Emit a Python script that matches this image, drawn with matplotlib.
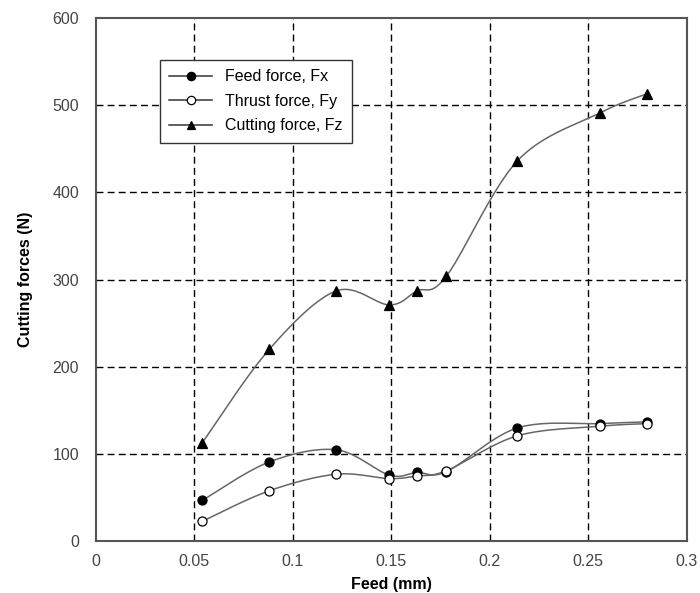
import numpy as np
import matplotlib.pyplot as plt

plt.rcParams['font.family'] = ['Liberation Sans', 'DejaVu Sans']

# feed values (mm)
feed = [0.054, 0.088, 0.122, 0.149, 0.163, 0.178, 0.214, 0.256, 0.280]
# forces (N)
fx = [47, 91, 105, 76, 79, 80, 130, 135, 137]
fy = [23, 58, 77, 72, 75, 81, 121, 132, 135]
fz = [113, 220, 287, 271, 287, 304, 436, 491, 513]

xticks = [0, 0.05, 0.1, 0.15, 0.2, 0.25, 0.3]
xticklabels = ['0', '0.05', '0.1', '0.15', '0.2', '0.25', '0.3']
yticks = [0, 100, 200, 300, 400, 500, 600]


def smooth(x, y, n=25):
    # catmull-rom style curve, like the spreadsheet "smoothed line"
    x = np.asarray(x, float)
    y = np.asarray(y, float)
    px = np.concatenate([[x[0]], x, [x[-1]]])
    py = np.concatenate([[y[0]], y, [y[-1]]])
    xs, ys = [], []
    t = np.linspace(0, 1, n)
    for i in range(1, len(px) - 2):
        p0x, p1x, p2x, p3x = px[i-1], px[i], px[i+1], px[i+2]
        p0y, p1y, p2y, p3y = py[i-1], py[i], py[i+1], py[i+2]
        c1x = p1x + (p2x - p0x) / 6
        c1y = p1y + (p2y - p0y) / 6
        c2x = p2x - (p3x - p1x) / 6
        c2y = p2y - (p3y - p1y) / 6
        bx = (1-t)**3*p1x + 3*(1-t)**2*t*c1x + 3*(1-t)*t**2*c2x + t**3*p2x
        by = (1-t)**3*p1y + 3*(1-t)**2*t*c1y + 3*(1-t)*t**2*c2y + t**3*p2y
        xs.append(bx)
        ys.append(by)
    return np.concatenate(xs), np.concatenate(ys)


fig = plt.figure(figsize=(7, 5.93), dpi=100)
ax = fig.add_axes([0.137, 0.087, 0.844, 0.883])

line_col = '#666666'
series = [
    (fx, 'o', 'black', 'Feed force, Fx'),
    (fy, 'o', 'white', 'Thrust force, Fy'),
    (fz, '^', 'black', 'Cutting force, Fz'),
]
for vals, mk, face, label in series:
    sx, sy = smooth(feed, vals)
    ax.plot(sx, sy, color=line_col, lw=1.1, zorder=3)
    ax.plot(feed, vals, linestyle='None', marker=mk, markersize=6.5,
            markerfacecolor=face, markeredgecolor='black', markeredgewidth=0.9, zorder=4)
    ax.plot([], [], color='#333333', lw=1.1, marker=mk, markersize=6,
            markerfacecolor=face, markeredgecolor='black', markeredgewidth=0.9, label=label)

ax.set_xlim(0, 0.3)
ax.set_ylim(0, 600)
ax.set_xticks(xticks)
ax.set_xticklabels(xticklabels)
ax.set_yticks(yticks)
ax.tick_params(length=0, labelsize=11.5, labelcolor='#444444')
ax.tick_params(axis='x', pad=9)
ax.tick_params(axis='y', pad=12)
ax.grid(True, color='black', linestyle=(0, (5, 3)), linewidth=1)
# no dashes on top of the frame edges
ax.yaxis.get_gridlines()[-1].set_visible(False)
ax.yaxis.get_gridlines()[0].set_visible(False)
ax.xaxis.get_gridlines()[0].set_visible(False)
for s in ax.spines.values():
    s.set_color('#555555')
    s.set_linewidth(1.5)
    s.set_zorder(5)

ax.set_xlabel('Feed (mm)', fontsize=11.5, fontweight='bold', labelpad=6)
ax.set_ylabel('Cutting forces (N)', fontsize=11.5, fontweight='bold', labelpad=14)

leg = ax.legend(loc='upper left', bbox_to_anchor=(0.108, 0.92), borderaxespad=0,
                fancybox=False, framealpha=1, edgecolor='#333333', fontsize=11.5,
                handlelength=2.7, labelspacing=0.6, borderpad=0.6)
leg.get_frame().set_linewidth(1)

fig.savefig('out.png', dpi=100)
